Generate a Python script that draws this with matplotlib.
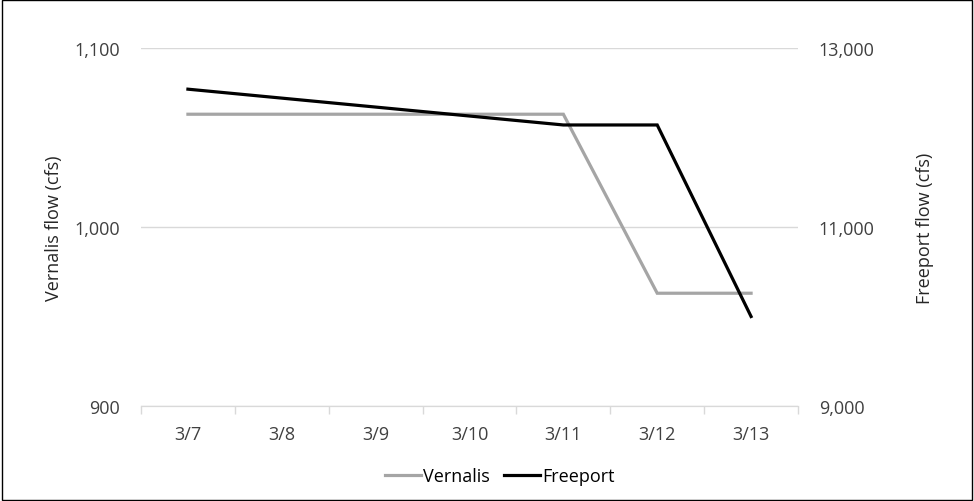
import numpy as np
import matplotlib.pyplot as plt
from matplotlib.patches import Rectangle
from matplotlib.ticker import FuncFormatter

plt.rcParams['font.family'] = ['Open Sans', 'DejaVu Sans']

# Data
dates = ["3/7", "3/8", "3/9", "3/10", "3/11", "3/12", "3/13"]
vernalis = [1063, 1063, 1063, 1063, 1063, 963, 963]
freeport = [12540, 12440, 12340, 12240, 12140, 12140, 10000]

fig = plt.figure(figsize=(9.74, 5.02), dpi=100)
ax = fig.add_axes([141 / 974, 95 / 502, 657 / 974, 358 / 502])
ax2 = ax.twinx()

x = np.arange(len(dates))
ax.plot(x, vernalis, color="#A5A5A5", lw=2.3, solid_joinstyle="miter", label="Vernalis", zorder=3)
ax2.plot(x, freeport, color="black", lw=2.3, solid_joinstyle="miter", label="Freeport", zorder=3)

ax.set_xlim(-0.5, len(dates) - 0.5)
ax.set_ylim(900, 1100)
ax2.set_ylim(9000, 13000)
ax.set_yticks([900, 1000, 1100])
ax2.set_yticks([9000, 11000, 13000])
comma = FuncFormatter(lambda v, p: f"{v:,.0f}")
ax.yaxis.set_major_formatter(comma)
ax2.yaxis.set_major_formatter(comma)

ax.set_xticks(x)
ax.set_xticklabels(dates)
ax.set_xticks(np.arange(-0.5, len(dates)), minor=True)
ax.tick_params(axis="x", which="major", length=0, pad=14, labelsize=13, colors="#404040")
ax.tick_params(axis="x", which="minor", length=6, color="#D9D9D9", width=1)
ax.tick_params(axis="y", length=0, pad=15, labelsize=13, colors="#404040")
ax2.tick_params(axis="y", length=0, pad=15, labelsize=13, colors="#404040")

ax.grid(axis="y", color="#D9D9D9", lw=1)
ax.set_axisbelow(True)
for a in (ax, ax2):
    for s in ["top", "left", "right"]:
        a.spines[s].set_visible(False)
    a.spines["bottom"].set_color("#D9D9D9")

ax.set_ylabel("Vernalis flow (cfs)", fontsize=13, color="#262626", labelpad=8)
ax2.set_ylabel("Freeport flow (cfs)", fontsize=13, color="#262626", labelpad=30, rotation=90)

h1, l1 = ax.get_legend_handles_labels()
h2, l2 = ax2.get_legend_handles_labels()
fig.legend(h1 + h2, l1 + l2, loc="center", bbox_to_anchor=(500 / 974, 25 / 502), ncol=2,
           frameon=False, fontsize=13, handlelength=2.0, handletextpad=0.1, columnspacing=0.8)

fig.patches.append(Rectangle((0.002, 0.002), 0.996, 0.996, transform=fig.transFigure,
                             fill=False, edgecolor="black", lw=1))

fig.savefig("out.png", dpi=100)
